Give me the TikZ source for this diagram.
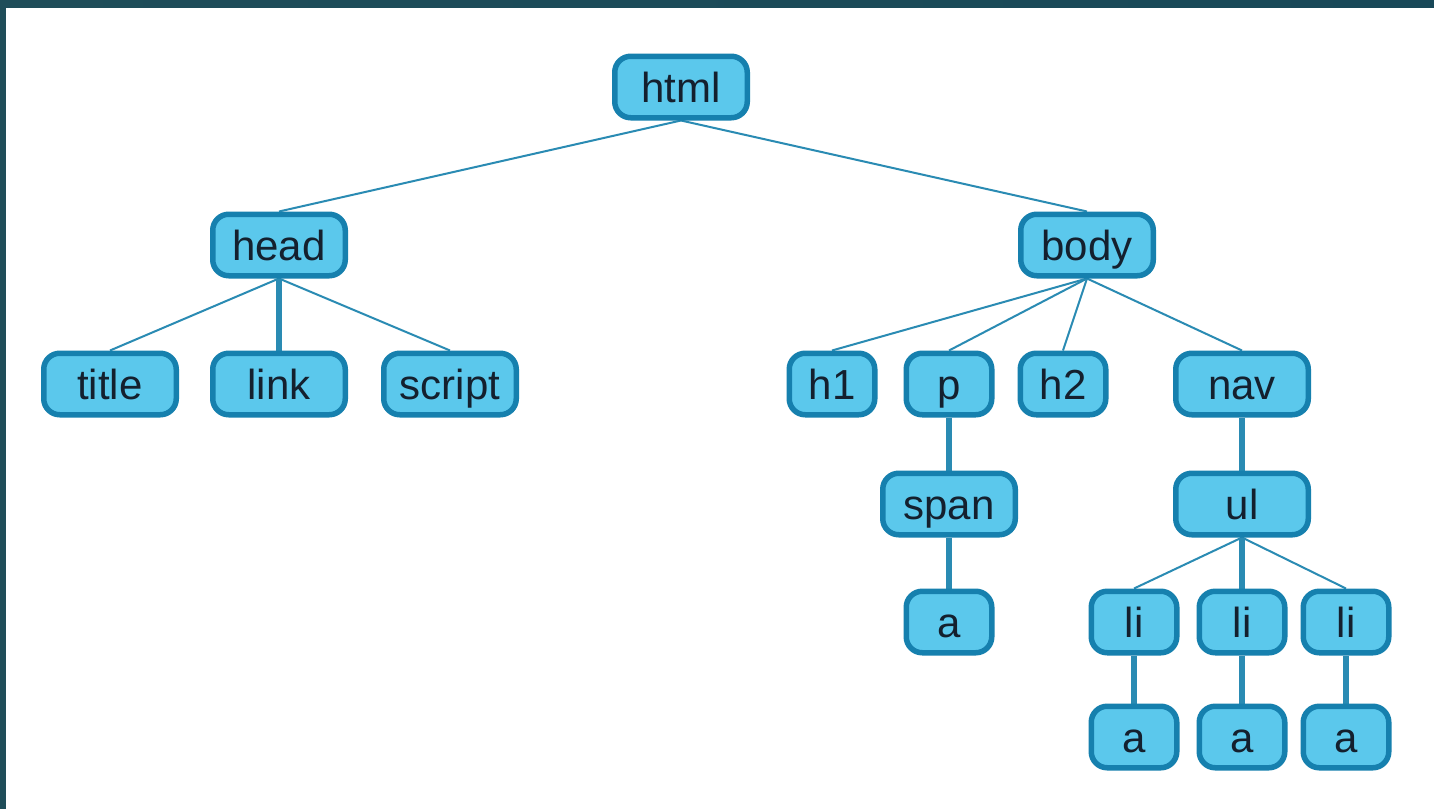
\documentclass[tikz,border=0pt]{standalone}
\usepackage{fontspec}
\setmainfont{Liberation Sans}
\usetikzlibrary{backgrounds}
\definecolor{nodefill}{HTML}{5BC8EC}
\definecolor{nodeline}{HTML}{1680AE}
\definecolor{edgecol}{HTML}{2A8BB3}
\definecolor{txt}{HTML}{14202E}
\definecolor{frameA}{HTML}{1F4D59}
\definecolor{frameB}{HTML}{3A786C}
\definecolor{frameC}{HTML}{184858}
\begin{document}
\begin{tikzpicture}[x=1pt,y=-1pt,
  tagbox/.style={draw=nodeline, fill=nodefill, line width=5.5pt, rounded corners=16pt,
    minimum width=132.5pt, minimum height=61.5pt, inner sep=0pt,
    font=\fontsize{42}{42}\selectfont, text=txt, text height=30pt, text depth=0pt},
  smallbox/.style={tagbox, minimum width=85.5pt},
  thinedge/.style={draw=edgecol, line width=2pt},
  thickedge/.style={draw=edgecol, line width=5.5pt}]
\useasboundingbox (0,0) rectangle (1434,809);

\node[tagbox] (html) at (681,87) {html};
\node[tagbox] (head) at (279,245) {head};
\node[tagbox] (body) at (1087,245) {body};
\node[tagbox] (title) at (110,384) {title};
\node[tagbox] (link) at (279,384) {link};
\node[tagbox] (script) at (450,384) {script};
\node[smallbox] (h1) at (832,384) {h1};
\node[smallbox] (p) at (949,384) {p};
\node[smallbox] (h2) at (1063,384) {h2};
\node[tagbox] (nav) at (1242,384) {nav};
\node[tagbox] (span) at (949,504) {span};
\node[tagbox] (ul) at (1242,504) {ul};
\node[smallbox] (a0) at (949,622) {a};
\node[smallbox] (li1) at (1134,622) {li};
\node[smallbox] (li2) at (1242,622) {li};
\node[smallbox] (li3) at (1346,622) {li};
\node[smallbox] (a1) at (1134,737) {a};
\node[smallbox] (a2) at (1242,737) {a};
\node[smallbox] (a3) at (1346,737) {a};

\begin{scope}[on background layer]
\fill[white] (0,0) rectangle (1434,809);
\fill[frameA] (0,0) rectangle (6,809);
\shade[left color=frameA, middle color=frameB, right color=frameC] (0,0) rectangle (1434,7);
\draw[thinedge] (html.south) -- (head.north);
\draw[thinedge] (html.south) -- (body.north);
\draw[thinedge] (head.south) -- (title.north);
\draw[thickedge] (head.south) -- (link.north);
\draw[thinedge] (head.south) -- (script.north);
\draw[thinedge] (body.south) -- (h1.north);
\draw[thinedge] (body.south) -- (p.north);
\draw[thinedge] (body.south) -- (h2.north);
\draw[thinedge] (body.south) -- (nav.north);
\draw[thickedge] (p.south) -- (span.north);
\draw[thickedge] (span.south) -- (a0.north);
\draw[thickedge] (nav.south) -- (ul.north);
\draw[thinedge] (ul.south) -- (li1.north);
\draw[thickedge] (ul.south) -- (li2.north);
\draw[thinedge] (ul.south) -- (li3.north);
\draw[thickedge] (li1.south) -- (a1.north);
\draw[thickedge] (li2.south) -- (a2.north);
\draw[thickedge] (li3.south) -- (a3.north);
\end{scope}
\end{tikzpicture}
\end{document}
